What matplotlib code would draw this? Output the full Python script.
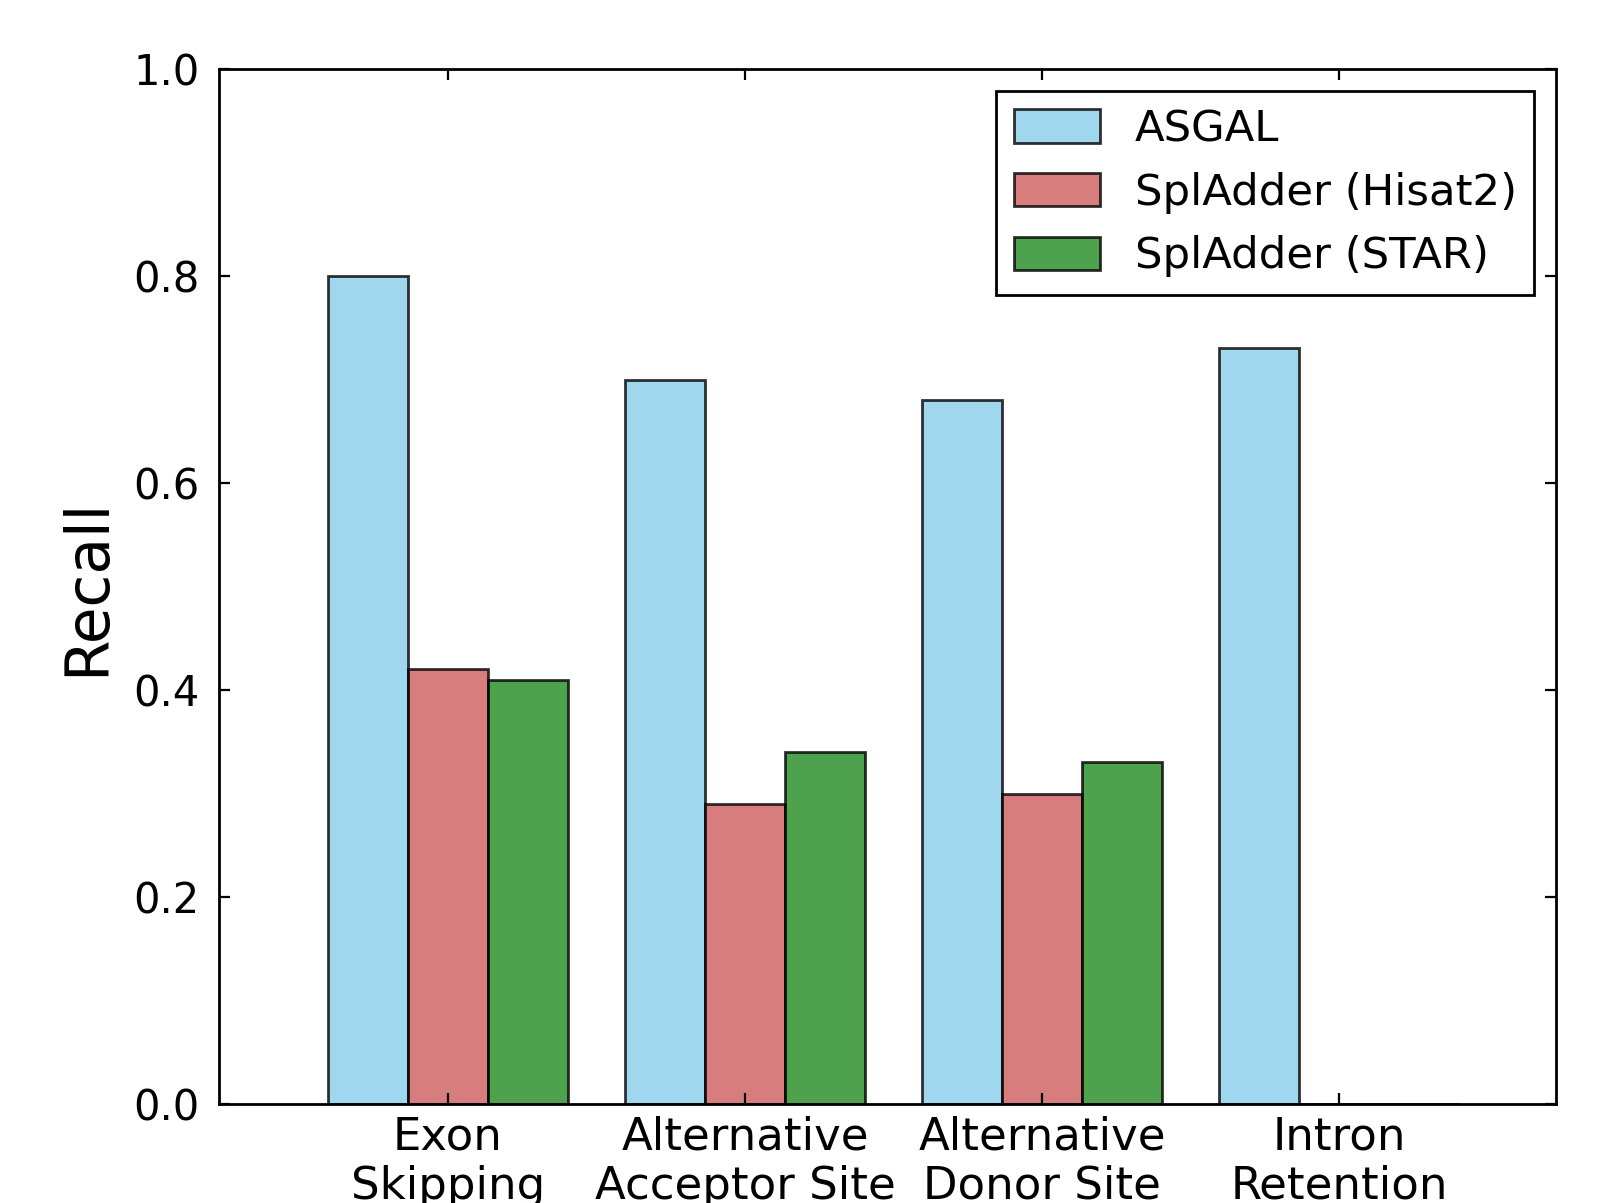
import matplotlib
matplotlib.use("Agg")
import matplotlib.pyplot as plt
import numpy as np

plt.rcParams.update({
    "font.family": "DejaVu Sans",
    "font.size": 15,
    "xtick.direction": "in",
    "ytick.direction": "in",
    "xtick.top": True,
    "ytick.right": True,
    "xtick.major.size": 4,
    "ytick.major.size": 4,
    "axes.linewidth": 1.0,
})

categories = ["Exon\nSkipping", "Alternative\nAcceptor Site",
              "Alternative\nDonor Site", "Intron\nRetention"]
asgal = [0.80, 0.70, 0.68, 0.73]
splad_hisat2 = [0.42, 0.29, 0.30, 0.0]
splad_star = [0.41, 0.34, 0.33, 0.0]

series = [
    ("ASGAL", asgal, "skyblue"),
    ("SplAdder (Hisat2)", splad_hisat2, "indianred"),
    ("SplAdder (STAR)", splad_star, "forestgreen"),
]

fig = plt.figure(figsize=(8, 6.015), dpi=200)
ax = fig.add_axes([0.137, 0.0823, 0.8355, 0.8603])

x = np.arange(len(categories))
w = 0.27
for k, (label, vals, color) in enumerate(series):
    ax.bar(x + (k - 1) * w, vals, w, color=color, alpha=0.8,
           edgecolor="black", linewidth=1.0, label=label)

ax.set_xlim(-0.77, 3.73)
ax.set_ylim(0, 1.0)
ax.set_xticks(x)
ax.set_xticklabels(categories, linespacing=1.2, fontsize=16.2)
ax.set_ylabel("Recall", fontsize=21.5, labelpad=6)
ax.tick_params(axis="y", pad=7)
ax.tick_params(axis="x", pad=4)

leg = ax.legend(loc="upper right", fancybox=False, framealpha=1,
                edgecolor="black", handleheight=0.8, fontsize=15.6)
leg.get_frame().set_linewidth(1.0)

fig.savefig("out.png", dpi=200)
